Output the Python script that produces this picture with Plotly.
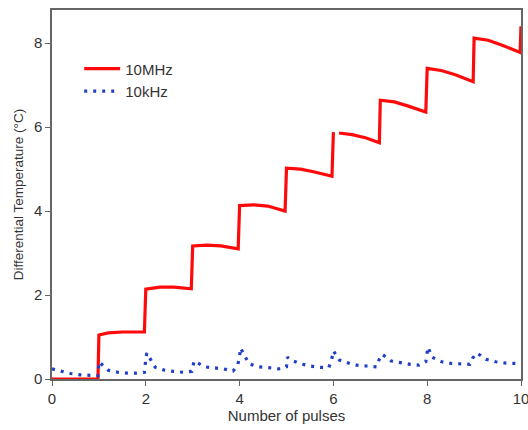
import plotly.graph_objects as go

# 10 MHz series (red)
mhz_x = [0, 0.98, 1.0, 1.2, 1.5, 1.97, 2.0, 2.3, 2.6, 2.97, 3.0, 3.3, 3.6, 3.97,
         4.0, 4.3, 4.6, 4.97, 5.0, 5.3, 5.6, 5.97, 6.0, None,
         6.12, 6.4, 6.7, 6.98, 7.0, 7.3, 7.6, 7.97, 8.0, 8.3, 8.6, 8.98,
         9.0, 9.3, 9.6, 9.98, 10.0]
mhz_y = [0, 0, 1.05, 1.10, 1.12, 1.12, 2.14, 2.19, 2.19, 2.15, 3.17, 3.19, 3.17, 3.10,
         4.13, 4.15, 4.12, 4.00, 5.02, 5.00, 4.93, 4.83, 5.88, None,
         5.86, 5.82, 5.74, 5.63, 6.64, 6.60, 6.50, 6.36, 7.40, 7.35, 7.25, 7.08,
         8.12, 8.07, 7.95, 7.78, 8.40]

# 10 kHz series (blue)
khz_x = [0, 0.2, 0.4, 0.6, 0.8, 0.98, 1.0, 1.2, 1.4, 1.6, 1.8, 1.97, 1.99, 2.0, 2.02,
         2.2, 2.4, 2.6, 2.8, 2.98, 3.03, 3.26, 3.47, 3.66, 3.86, 3.96, 4.0, 4.02,
         4.2, 4.41, 4.62, 4.83, 5.0, 5.02, 5.1, 5.31, 5.5, 5.7, 5.9, 5.96, 6.0,
         6.13, 6.35, 6.5, 6.71, 6.92, 6.97, 7.04, 7.23, 7.44, 7.63, 7.82, 7.97,
         8.0, 8.02, 8.1, 8.31, 8.52, 8.72, 8.91, 8.97, 9.06, 9.25, 9.46, 9.68, 9.9]
khz_y = [0.24, 0.18, 0.13, 0.10, 0.08, 0.08, 0.41, 0.21, 0.16, 0.14, 0.14, 0.16, 0.37, 0.45, 0.62,
         0.28, 0.21, 0.18, 0.16, 0.18, 0.43, 0.29, 0.26, 0.24, 0.19, 0.33, 0.55, 0.74,
         0.36, 0.29, 0.27, 0.24, 0.29, 0.52, 0.45, 0.36, 0.31, 0.28, 0.27, 0.45, 0.67,
         0.45, 0.37, 0.33, 0.31, 0.29, 0.45, 0.59, 0.43, 0.38, 0.35, 0.33, 0.41,
         0.64, 0.76, 0.52, 0.41, 0.37, 0.35, 0.35, 0.50, 0.62, 0.47, 0.41, 0.38, 0.37]

x_ticks = [0, 2, 4, 6, 8, 10]
y_ticks = [0, 2, 4, 6, 8]

fig = go.Figure()
fig.add_trace(go.Scatter(x=mhz_x, y=mhz_y, mode="lines", name="10MHz",
                         line=dict(color="#ff0a0a", width=3.2), connectgaps=False))
fig.add_trace(go.Scatter(x=khz_x, y=khz_y, mode="lines", name="10kHz",
                         line=dict(color="#1f3fc8", width=3.2, dash="3px,6px")))

axis_common = dict(showgrid=False, zeroline=False, showline=True, linecolor="#666",
                   linewidth=1.5, mirror=True, ticks="outside", ticklen=5, tickwidth=1.2,
                   tickcolor="#666", automargin=False, ticklabeloverflow="allow",
                   tickfont=dict(family="Liberation Sans, Arial", size=15, color="#333"))

fig.update_layout(
    width=528, height=430,
    margin=dict(l=52, r=7, t=10, b=51),
    paper_bgcolor="white", plot_bgcolor="white",
    font=dict(family="Liberation Sans, Arial", color="#333"),
    xaxis=dict(range=[0, 10], tickvals=x_ticks, title=dict(text="Number of pulses", font=dict(size=15), standoff=4),
               **axis_common),
    yaxis=dict(range=[0, 8.79], tickvals=y_ticks,
               title=dict(text="Differential Temperature (°C)", font=dict(size=13.5), standoff=7),
               **axis_common),
    legend=dict(x=0.058, y=0.885, xanchor="left", yanchor="top", bgcolor="rgba(0,0,0,0)",
                font=dict(size=15, color="#333"), tracegroupgap=0, itemwidth=36),
    showlegend=True,
)

fig.write_html("out.html")
